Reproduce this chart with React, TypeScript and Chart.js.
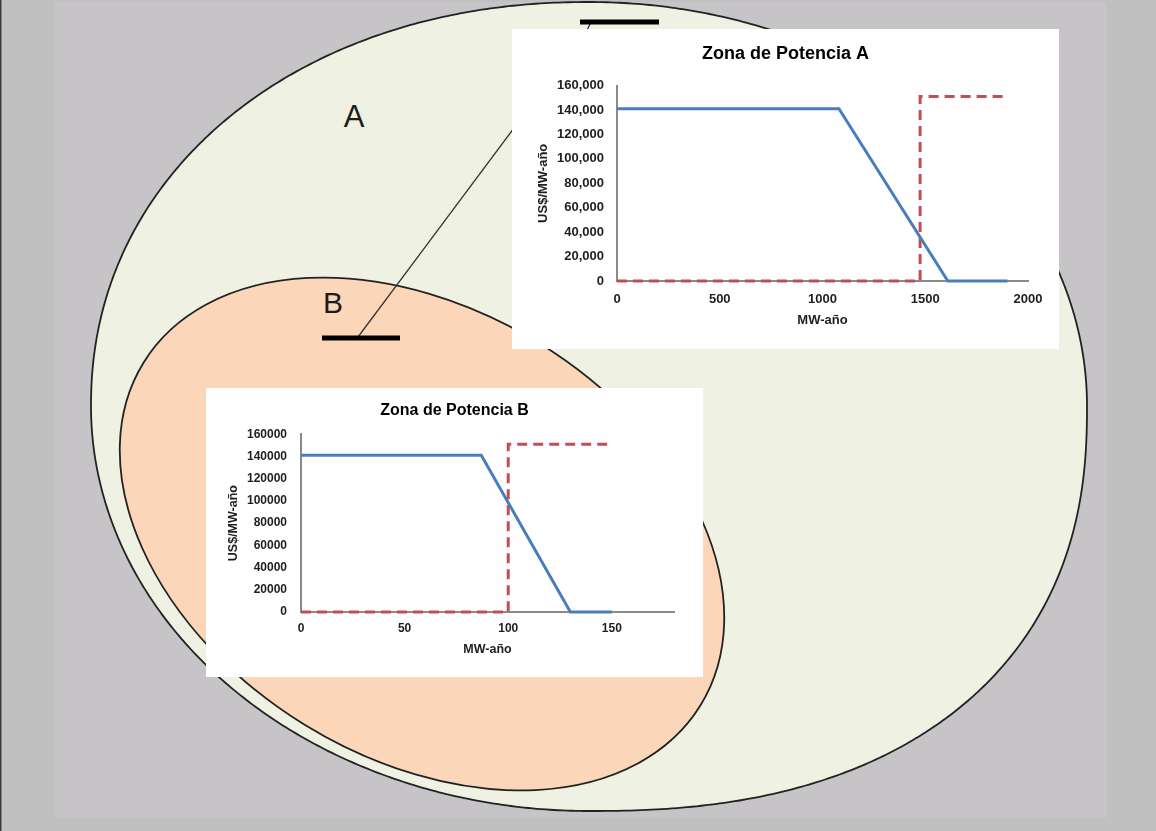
import React, { useEffect, useRef } from "react";
import { Chart, registerables } from "chart.js";

Chart.register(...registerables);

// ---------- data ----------
const zoneATitle = "Zona de Potencia A";
const zoneBTitle = "Zona de Potencia B";
const yAxisTitle = "US$/MW-año";
const xAxisTitle = "MW-año";

const zoneADemandX = [0, 1080, 1610, 1900];
const zoneADemandY = [141000, 141000, 0, 0];
const zoneASupplyX = [0, 1475, 1475, 1900];
const zoneASupplyY = [0, 0, 151000, 151000];
const zoneAXTicks = [0, 500, 1000, 1500, 2000];
const zoneAYTicks = [0, 20000, 40000, 60000, 80000, 100000, 120000, 140000, 160000];
const zoneAXMax = 2000;

const zoneBDemandX = [0, 87, 130, 150];
const zoneBDemandY = [141000, 141000, 0, 0];
const zoneBSupplyX = [0, 100, 100, 150];
const zoneBSupplyY = [0, 0, 151000, 151000];
const zoneBXTicks = [0, 50, 100, 150];
const zoneBYTicks = [0, 20000, 40000, 60000, 80000, 100000, 120000, 140000, 160000];
const zoneBXMax = 180;

const FONT = "'Liberation Sans', Arial, sans-serif";
const BLUE = "#4a7ebb";
const RED = "#c0504d";

type Spec = {
  title: string;
  titleSize: number;
  titlePadTop: number;
  titlePadBottom: number;
  demandX: number[];
  demandY: number[];
  supplyX: number[];
  supplyY: number[];
  xTicks: number[];
  yTicks: number[];
  xMax: number;
  yFormat: (v: number) => string;
  yWidth: number;
  xHeight: number;
  padRight: number;
  tickSize: number;
  tickPadX: number;
  tickPadY: number;
  axisTitleSize: number;
  yTitlePad: number;
  xTitlePad: number;
};

function buildConfig(s: Spec): any {
  const pts = (xs: number[], ys: number[]) => xs.map((x, i) => ({ x, y: ys[i] }));
  return {
    type: "line",
    data: {
      datasets: [
        {
          label: "Demanda",
          data: pts(s.demandX, s.demandY),
          borderColor: BLUE,
          borderWidth: 3,
          pointRadius: 0,
          tension: 0,
          fill: false,
          clip: 6,
        },
        {
          label: "Oferta",
          data: pts(s.supplyX, s.supplyY),
          borderColor: RED,
          borderWidth: 3,
          borderDash: [10, 6],
          pointRadius: 0,
          tension: 0,
          fill: false,
          clip: 6,
        },
      ],
    },
    options: {
      responsive: false,
      animation: false,
      devicePixelRatio: 1,
      layout: { padding: 0 },
      plugins: {
        legend: { display: false },
        tooltip: { enabled: false },
        title: {
          display: true,
          text: s.title,
          color: "#000",
          font: { family: FONT, size: s.titleSize, weight: "bold" },
          padding: { top: s.titlePadTop, bottom: s.titlePadBottom },
        },
      },
      scales: {
        x: {
          type: "linear",
          min: 0,
          max: s.xMax,
          grid: { display: false, drawTicks: false },
          border: { display: true, color: "#8a8a8a", width: 2 },
          afterBuildTicks: (sc: any) => {
            sc.ticks = s.xTicks.map((v) => ({ value: v }));
          },
          afterFit: (sc: any) => {
            sc.height = s.xHeight;
          },
          ticks: {
            padding: s.tickPadX,
            color: "#1e1e1e",
            font: { family: FONT, size: s.tickSize, weight: "bold" },
            maxRotation: 0,
            autoSkip: false,
            callback: (v: any) => String(v),
          },
          title: {
            display: true,
            text: xAxisTitle,
            color: "#1e1e1e",
            font: { family: FONT, size: s.axisTitleSize, weight: "bold" },
            padding: { top: 0, bottom: s.xTitlePad },
          },
        },
        y: {
          type: "linear",
          position: "left",
          min: 0,
          max: 160000,
          grid: { display: false, drawTicks: false },
          border: { display: true, color: "#8a8a8a", width: 2 },
          afterBuildTicks: (sc: any) => {
            sc.ticks = s.yTicks.map((v) => ({ value: v }));
          },
          afterFit: (sc: any) => {
            sc.width = s.yWidth;
          },
          ticks: {
            padding: s.tickPadY,
            color: "#1e1e1e",
            font: { family: FONT, size: s.tickSize, weight: "bold" },
            callback: (v: any) => s.yFormat(Number(v)),
          },
          title: {
            display: true,
            text: yAxisTitle,
            color: "#1e1e1e",
            font: { family: FONT, size: s.axisTitleSize, weight: "bold" },
            padding: { top: s.yTitlePad, bottom: 0 },
          },
        },
        // empty right-hand spacer so the title stays centred on the whole box
        spacer: {
          type: "linear",
          position: "right",
          display: true,
          min: 0,
          max: 1,
          grid: { display: false, drawTicks: false },
          border: { display: false },
          ticks: { display: false },
          afterFit: (sc: any) => {
            sc.width = s.padRight;
          },
        },
      },
    },
  };
}

const specA: Spec = {
  title: zoneATitle,
  titleSize: 18,
  titlePadTop: 14,
  titlePadBottom: 21,
  demandX: zoneADemandX,
  demandY: zoneADemandY,
  supplyX: zoneASupplyX,
  supplyY: zoneASupplyY,
  xTicks: zoneAXTicks,
  yTicks: zoneAYTicks,
  xMax: zoneAXMax,
  yFormat: (v) => v.toLocaleString("en-US"),
  yWidth: 105,
  xHeight: 68,
  padRight: 31,
  tickSize: 13,
  tickPadX: 11,
  tickPadY: 13,
  axisTitleSize: 13,
  yTitlePad: 24,
  xTitlePad: 21,
};

const specB: Spec = {
  title: zoneBTitle,
  titleSize: 16,
  titlePadTop: 13,
  titlePadBottom: 14,
  demandX: zoneBDemandX,
  demandY: zoneBDemandY,
  supplyX: zoneBSupplyX,
  supplyY: zoneBSupplyY,
  xTicks: zoneBXTicks,
  yTicks: zoneBYTicks,
  xMax: zoneBXMax,
  yFormat: (v) => String(v),
  yWidth: 95,
  xHeight: 65,
  padRight: 29,
  tickSize: 12,
  tickPadX: 9,
  tickPadY: 14,
  axisTitleSize: 12.5,
  yTitlePad: 20,
  xTitlePad: 20,
};

// ---------- decorative diagram geometry ----------
function outerShapePath(): string {
  const cx = 589;
  const cy = 406;
  const rRight = 498;
  const rLeft = 498;
  const rTop = 404;
  const rBottom = 405;
  const nBR = 2.35;
  const nBL = 2.0;
  const nTL = 2.1;
  const nTR = 2.0;
  const pts: string[] = [];
  const N = 720;
  for (let i = 0; i <= N; i++) {
    const t = (i / N) * Math.PI * 2;
    const c = Math.cos(t);
    const s = Math.sin(t);
    const right = c >= 0;
    const bottom = s >= 0;
    const n = right ? (bottom ? nBR : nTR) : bottom ? nBL : nTL;
    const rx = right ? rRight : rLeft;
    const ry = bottom ? rBottom : rTop;
    const x = cx + rx * Math.sign(c) * Math.pow(Math.abs(c), 2 / n);
    const y = cy + ry * Math.sign(s) * Math.pow(Math.abs(s), 2 / n);
    pts.push(`${i === 0 ? "M" : "L"}${x.toFixed(2)},${y.toFixed(2)}`);
  }
  return pts.join(" ") + " Z";
}

export default function App() {
  const refA = useRef<HTMLCanvasElement>(null);
  const refB = useRef<HTMLCanvasElement>(null);

  useEffect(() => {
    const a = new Chart(refA.current as HTMLCanvasElement, buildConfig(specA));
    const b = new Chart(refB.current as HTMLCanvasElement, buildConfig(specB));
    return () => {
      a.destroy();
      b.destroy();
    };
  }, []);

  return (
    <div
      style={{
        position: "absolute",
        left: 0,
        top: 0,
        width: 1156,
        height: 831,
        overflow: "hidden",
        background: "#c0c0c0",
      }}
    >
      <svg width={1156} height={831} style={{ position: "absolute", left: 0, top: 0 }}>
        <rect x={0} y={0} width={1156} height={831} fill="#c0c0c0" />
        <rect x={55} y={2} width={1052} height={816} fill="#c6c4c7" />
        <line x1={0.75} y1={0} x2={0.75} y2={831} stroke="#3a3a3a" strokeWidth={1.5} />
        <path d={outerShapePath()} fill="#eff1e2" stroke="#222" strokeWidth={1.8} />
        <ellipse
          cx={422}
          cy={534}
          rx={327}
          ry={224}
          transform="rotate(31.6 422 534)"
          fill="#fcd6b9"
          stroke="#222"
          strokeWidth={1.8}
        />
        <line x1={358} y1={337} x2={520} y2={120} stroke="#333" strokeWidth={1.3} />
        <line x1={591} y1={22} x2={580} y2={45} stroke="#333" strokeWidth={1.3} />
        <line x1={580} y1={22} x2={659} y2={22} stroke="#000" strokeWidth={5} />
        <line x1={322} y1={338} x2={400} y2={338} stroke="#000" strokeWidth={5} />
        <text
          x={354}
          y={127}
          textAnchor="middle"
          fontFamily={FONT}
          fontSize={31}
          fill="#1c1c1c"
        >
          A
        </text>
        <text
          x={333}
          y={313}
          textAnchor="middle"
          fontFamily={FONT}
          fontSize={30}
          fill="#1c1c1c"
        >
          B
        </text>
      </svg>
      <div
        style={{
          position: "absolute",
          left: 512,
          top: 29,
          width: 547,
          height: 320,
          background: "#fff",
        }}
      >
        <canvas ref={refA} width={547} height={320} style={{ display: "block" }} />
      </div>
      <div
        style={{
          position: "absolute",
          left: 206,
          top: 388,
          width: 497,
          height: 289,
          background: "#fff",
        }}
      >
        <canvas ref={refB} width={497} height={289} style={{ display: "block" }} />
      </div>
    </div>
  );
}
